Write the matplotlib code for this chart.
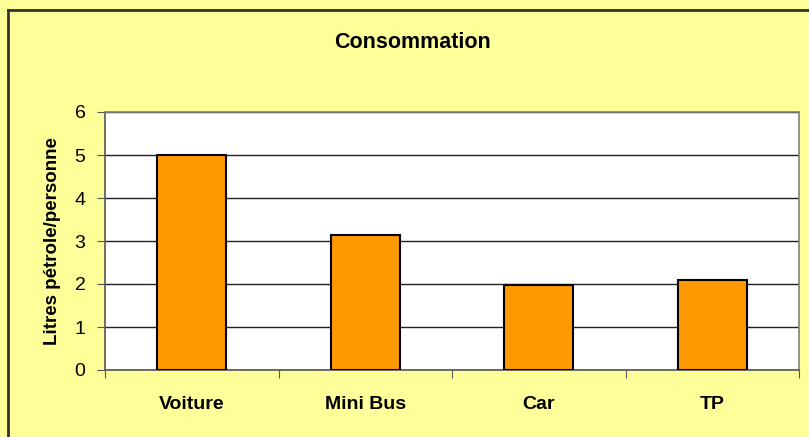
import numpy as np
import matplotlib.pyplot as plt
from matplotlib.lines import Line2D

categories = ["Voiture", "Mini Bus", "Car", "TP"]
litres = [5.0, 3.14, 1.97, 2.1]
yticks = [0, 1, 2, 3, 4, 5, 6]

plt.rcParams['font.family'] = ['Liberation Sans', 'DejaVu Sans']

fig = plt.figure(figsize=(8.09, 4.37), dpi=100)
fig.patch.set_facecolor('#FFFF99')

# cadre (haut et gauche seulement)
fig.add_artist(Line2D([8 / 809, 8 / 809], [0, 1 - 10 / 437], color='#333333', lw=2,
                      transform=fig.transFigure))
fig.add_artist(Line2D([8 / 809, 1], [1 - 10 / 437, 1 - 10 / 437], color='#333333', lw=2,
                      transform=fig.transFigure))

ax = fig.add_axes([105 / 809, 1 - 370 / 437, 694 / 809, 258 / 437])
ax.set_facecolor('white')
x = np.arange(len(categories))
ax.bar(x, litres, width=0.4, color='#FF9900', edgecolor='black', linewidth=1.5, zorder=3)

ax.set_xlim(-0.5, len(categories) - 0.5)
ax.set_ylim(0, 6)
ax.set_yticks(yticks)
ax.set_yticklabels([str(t) for t in yticks], fontsize=14)
ax.yaxis.grid(True, color='#222222', linewidth=1, zorder=0)

ax.set_xticks(np.arange(-0.5, len(categories), 1.0))
ax.set_xticklabels([])
ax.set_xticks(x, minor=True)
ax.set_xticklabels(categories, minor=True, fontsize=14, fontweight='bold')
ax.tick_params(axis='x', which='minor', length=0, pad=19)
ax.tick_params(axis='x', which='major', length=6, color='#555555')
ax.tick_params(axis='y', length=6, color='#555555', pad=8)

for s in ['left', 'bottom', 'top', 'right']:
    ax.spines[s].set_color('#808080')
    ax.spines[s].set_linewidth(1.2)
ax.spines['left'].set_color('#555555')
ax.spines['bottom'].set_color('#555555')

ax.set_ylabel("Litres pétrole/personne", fontsize=13.5, fontweight='bold', labelpad=10)
fig.text(413 / 809, 1 - 42 / 437, "Consommation", ha='center', va='center',
         fontsize=15.5, fontweight='bold')

fig.savefig("out.png", dpi=100, facecolor=fig.get_facecolor())
